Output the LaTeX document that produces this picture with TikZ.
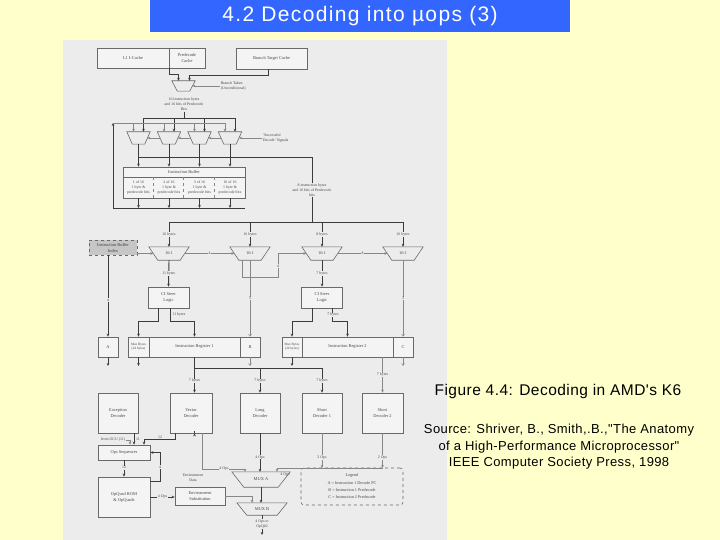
\documentclass[tikz,border=0pt]{standalone}
\usepackage{fontspec}
\setmainfont{Liberation Serif}
\newfontfamily\arialf{Liberation Sans}
\newfontfamily\arialt[LetterSpace=6.5]{Liberation Sans}
\newfontfamily\arials[LetterSpace=3]{Liberation Sans}
\usetikzlibrary{arrows.meta,calc}
\definecolor{ybg}{RGB}{255,255,204}
\definecolor{tbar}{RGB}{51,102,255}
\definecolor{figbg}{RGB}{236,236,236}
\definecolor{ln}{RGB}{60,60,60}
\definecolor{lnl}{RGB}{135,135,135}
\definecolor{tx}{RGB}{70,70,70}
\definecolor{bx}{RGB}{105,105,105}
\tikzset{
 ff/.style={font=\fontsize{4.4}{6}\selectfont, text=tx},
 bbox/.style={draw=bx, line width=0.6pt, ff, align=center, inner sep=0pt, fill=figbg!60!white},
 lbl/.style={font=\fontsize{3.9}{5}\selectfont, text=tx, align=center, inner sep=0.6pt, fill=figbg},
 lblnf/.style={font=\fontsize{3.9}{5}\selectfont, text=tx, align=center, inner sep=0.6pt},
 thk/.style={draw=ln, line width=0.9pt},
 thn/.style={draw=lnl, line width=0.45pt},
 arr/.style={-{Stealth[length=3pt,width=2.6pt]}},
 barb/.style={-{Straight Barb[length=2.2pt,width=3pt]}},
 muxn/.style={ff, inner sep=0pt},
 muxl/.style={draw=bx, line width=0.6pt},
}
\newcommand\muxshape[2]{\draw[muxl] (#1.north west) -- (#1.north east) -- ($(#1.south east)+(-#2,0)$) -- ($(#1.south west)+(#2,0)$) -- cycle;}
\begin{document}
\begin{tikzpicture}[x=1pt,y=-1pt]
\fill[ybg] (0,0) rectangle (720,540);
\useasboundingbox (0,0) rectangle (720,540);
\fill[tbar] (150,0) rectangle (570,32);
\node[font=\arialt\fontsize{21}{24}\selectfont, text=white] (title) at (360,16.5) {4.2 Decoding into µops (3)};
\fill[figbg] (63,40) rectangle (447,540);

% ---------- caches ----------
\node[bbox, minimum width=72, minimum height=20] (l1) at (133,58) {L1 I-Cache};
\node[bbox, minimum width=36, minimum height=20] (pre) at (187,58) {Predecode\\Cache};
\node[bbox, minimum width=71, minimum height=21] (btc) at (271.5,58.5) {Branch Target Cache};

\node[muxn, minimum width=23, minimum height=10] (mux0) at (183.5,86) {};
\muxshape{mux0}{5.5}
\node[lblnf, anchor=west, align=left] (brt) at (220,86) {Branch Taken\\(Unconditional)};
\draw[thn,arr] (brt.west) -- ($(mux0.east)+(-2.75,0)$);
\draw[thk,arr] (l1.south east) |- ($(mux0.north)+(-5,-6)$) -- ($(mux0.north)+(-5,0)$);
\draw[thk,arr] ($(btc.south)+(-3,0)$) |- ($(mux0.north)+(6,-5)$) -- ($(mux0.north)+(6,0)$);

\node[lblnf] (ib16) at (184,104.5) {16 instruction bytes\\and 16 bits of Predecode\\Bits};
\coordinate (b1L) at (143.5,118);
\coordinate (b1R) at (235,118);
\draw[thk] (ib16.south) -- (ib16.south |- b1L);
\draw[thk] (b1L) -- (b1R);

% ---------- first mux row ----------
\foreach \n/\x in {m1/138.5,m2/169,m3/199.5,m4/230}{
  \node[muxn, minimum width=23, minimum height=12] (\n) at (\x,138) {};
  \muxshape{\n}{5.5}
  \draw[thn,arr] ($(\n.north)+(-5,-9)$) -- ($(\n.north)+(-5,0)$);
  \draw[thk,arr] ($(\n.north)+(5,-14)$) -- ($(\n.north)+(5,0)$);
}
\node[lblnf, anchor=west, align=left] (sds) at (262,138) {`Successful\\Decode' Signals};
\draw[thn,arr] (sds.west) -- ($(m4.east)+(-2.75,0)$);
\draw[thn,arr] ($(m4.west)+(2.75,0)$) -- ($(m3.east)+(-2.75,0)$);
\draw[thn,arr] ($(m3.west)+(2.75,0)$) -- ($(m2.east)+(-2.75,0)$);
\draw[thn,arr] ($(m2.west)+(2.75,0)$) -- ($(m1.east)+(-2.75,0)$);

% ---------- instruction buffer ----------
\node[bbox, minimum width=122, minimum height=10] (ibh) at (184,172) {Instruction Buffer};
\node[bbox, minimum width=122, minimum height=21] (ibc) at (184,187.5) {};
\foreach \d in {30.5,61,91.5}{
  \draw[thn,dashed] ($(ibc.north west)+(\d,0)$) -- ($(ibc.south west)+(\d,0)$);
}
\node[lblnf] (c1) at (138.5,187.5) {1 of 16\\1 byte \&\\predecode bits};
\node[lblnf] (c2) at (169,187.5) {2 of 16\\1 byte \&\\predecode bits};
\node[lblnf] (c3) at (199.5,187.5) {3 of 16\\1 byte \&\\predecode bits};
\node[lblnf] (c4) at (230,187.5) {16 of 16\\1 byte \&\\predecode bits};

\coordinate (b2R) at (312,157);
\coordinate (lpB) at (113,208);
\coordinate (lpBR) at (245,208);
\coordinate (lpTop) at (113,123);
\coordinate (lpTR) at (225,123);
\draw[thk] (m1.south |- b2R) -- (b2R);
\foreach \n in {m1,m2,m3,m4}{
  \draw[thk,arr] (\n.south) -- (\n.south |- ibh.north);
  \draw[thk,arr] (ibc.south -| \n.south) -- (\n.south |- lpB);
}
\draw[thk,arr] (lpBR) -- (lpB) -- (lpTop);
\draw[thn] (lpTop) -- (lpTR);

\node[lblnf] (ib8) at (312,190) {8 instruction bytes\\and 16 bits of Predecode\\bits};
\draw[thk] (b2R) -- (ib8.north);
\coordinate (b3L) at (169,222);
\coordinate (b3R) at (403,222);
\draw[thk] (ib8.south) -- (ib8.south |- b3L);
\draw[thk] (b3L) -- (b3R);

% ---------- 16:1 muxes ----------
\foreach \n/\x/\t in {mA/169/16 bytes,mB/250/16 bytes,mC/322/8 bytes,mD/403/16 bytes}{
  \node[muxn, minimum width=40, minimum height=13] (\n) at (\x,253.5) {16:1};
  \muxshape{\n}{9}
  \draw[thk,arr] (\n.north |- b3L) -- (\n.north);
  \node[lbl] (l\n) at ($(\n.north)+(0,-12)$) {\t};
}
\node[bbox, dashed, fill=gray!45, minimum width=48, minimum height=15, text=black!75] (ibi) at (113,247.5) {Instruction Buffer\\Index};
\draw[thn,arr] (ibi.east |- mA.west) -- ($(mA.west)+(4.5,0)$);
\draw[thn,arr] ($(mA.east)+(-4.5,0)$) -- node[lbl] (n4a) {4} ($(mB.west)+(4.5,0)$);
\coordinate (jk1) at (242,277);
\coordinate (jk2) at (278,277);
\draw[thn,arr] ($(mB.south)+(-8,0)$) -- (jk1) -- (jk2) -- (jk2 |- mC.west) -- ($(mC.west)+(4.5,0)$);
\node[lbl] (n4b) at (278,266) {4};
\draw[thn,arr] ($(mC.east)+(-4.5,0)$) -- node[lbl] (n8) {8} ($(mD.west)+(4.5,0)$);

% ---------- CI steer ----------
\node[bbox, minimum width=41, minimum height=21] (ci1) at (168.5,297.5) {CI Steer\\Logic};
\node[bbox, minimum width=41, minimum height=21] (ci2) at (322,297.5) {CI Steer\\Logic};
\draw[thk,arr] (mA.south) -- node[lbl] (l11a) {11 bytes} (ci1.north);
\draw[thk,arr] (mC.south) -- node[lbl] (l7a) {7 bytes} (ci2.north);

% ---------- registers ----------
\node[bbox, minimum width=20, minimum height=20] (A) at (108,347) {A};
\node[bbox, minimum width=21, minimum height=20, font=\fontsize{3.4}{4}\selectfont] (ir1a) at (138.5,347) {Max Bytes\\(24 bytes)};
\node[bbox, minimum width=91, minimum height=20] (ir1) at (194.5,347) {Instruction Register 1};
\node[bbox, minimum width=20, minimum height=20] (Bx) at (250,347) {B};
\node[bbox, minimum width=20, minimum height=20, font=\fontsize{3.4}{4}\selectfont] (ir2a) at (292,347) {Max Bytes\\(24 bytes)};
\node[bbox, minimum width=91, minimum height=20] (ir2) at (347.5,347) {Instruction Register 2};
\node[bbox, minimum width=20, minimum height=20] (Cx) at (403,347) {C};

\draw[thn,barb] (mB.south) -- node[lbl,pos=0.5] (n5) {5} (Bx.north);
\draw[thn,barb] (mD.south) -- node[lbl,pos=0.5] (n3) {3} (Cx.north);
\draw[thk,arr] (ibi.south -| A.north) -- node[lbl,pos=0.55] (n4c) {4} (A.north);

\draw[thk,arr] ($(ci1.south)+(-10,0)$) |- ($(ir1a.north)+(0,-15)$) -- (ir1a.north);
\draw[thk,arr] ($(ci1.south)+(2,0)$) |- ($(ir1.north)+(0,-15)$) -- (ir1.north);
\node[lbl] (l11b) at (179,315) {11 bytes};
\draw[thk,arr] ($(ci2.south)+(-10,0)$) |- ($(ir2a.north)+(0,-15)$) -- (ir2a.north);
\draw[thk,arr] ($(ci2.south)+(10,0)$) |- ($(ir2.north)+(0,-15)$) -- (ir2.north);
\node[lbl] (l7b) at (333,315) {7 bytes};

\coordinate (oy) at (0,366);
\draw[thk,arr] (A.south) -- (A.south |- oy);
\draw[thk,arr] (ir1a.south) -- (ir1a.south |- oy);
\draw[thn,barb] (Bx.south) -- (Bx.south |- oy);
\draw[thk,arr] (ir2a.south) -- (ir2a.south |- oy);
\draw[thn,barb] (Cx.south) -- (Cx.south |- oy);

% ---------- decoders ----------
\node[bbox, minimum width=40, minimum height=40] (exc) at (118,413) {Exception\\Decoder};
\node[bbox, minimum width=42, minimum height=40] (vec) at (191,413) {Vector\\Decoder};
\node[bbox, minimum width=40, minimum height=40] (lng) at (260,413) {Long\\Decoder};
\node[bbox, minimum width=40, minimum height=40] (sd1) at (322,413) {Short\\Decoder 1};
\node[bbox, minimum width=41, minimum height=40] (sd2) at (382.5,413) {Short\\Decoder 2};

\coordinate (j1) at (194.5,368);
\coordinate (j3) at (322,368);
\draw[thk] (ir1.south) -- (j1) -- (j3);
\draw[thk,arr] (j1) -- (j1 |- vec.north);
\draw[thk,arr] (j1 -| lng.north) -- (lng.north);
\draw[thk,arr] (j3) -- (sd1.north);
\node[lbl] (l7c) at (194.5,381) {7 bytes};
\node[lbl] (l7d) at (260,381) {7 bytes};
\node[lbl] (l7e) at (322,381) {7 bytes};
\draw[thn,arr] (ir2.south -| sd2.north) -- node[lbl,pos=0.5] (l7f) {7 bytes} (sd2.north);

% ---------- lower section ----------
\node[bbox, minimum width=52, minimum height=15] (ops) at (124,452.5) {Ops Sequencer};
\node[bbox, minimum width=52, minimum height=40] (opq) at (124,497) {OpQuad ROM\\\& OpQuads};
\node[bbox, minimum width=50, minimum height=18] (env) at (200,496) {Environment\\Substitution};
\node[muxn, minimum width=58, minimum height=15] (muxa) at (261,479.5) {MUX A};
\muxshape{muxa}{12}
\node[muxn, minimum width=50, minimum height=12] (muxb) at (262,509) {MUX B};
\muxshape{muxb}{10}
\node[draw=bx, line width=0.6pt, dashed, rounded corners=3pt, minimum width=102, minimum height=37, font=\fontsize{4.2}{7.3}\selectfont, text=tx, align=center] (leg) at (352,486.5) {Legend\\A = Instruction 1 Decode PC\\B = Instruction 1 Predecode\\C = Instruction 2 Predecode};

\node[lblnf, anchor=east] (ocu) at (126,440) {from OCU (11)};
\draw[thn,arr] (ocu.east) -| ($(ops.north)+(6,0)$);
\draw[thk,arr] ($(exc.south)+(16,0)$) -- ($(ops.north)+(10,0)$);
\node[lblnf] (n11) at (138,439) {11};
\draw[thk,arr] ($(vec.south)+(-16,0)$) |- ($(ops.north)+(20,-5)$) -- ($(ops.north)+(20,0)$);
\node[lblnf] (n12) at (160,437.5) {12};

\draw[thk,arr] (ops.south) -- node[lbl,pos=0.45] (n12b) {12} (opq.north);
\draw[thk,arr] ($(opq.north east)+(0,5)$) -- ++(10,0) |- (ops.east);
\node[lbl] (n4d) at (160,467) {4};
\draw[thk,arr] (opq.east) -- node[lbl] (l4o) {4 Ops} (opq.east -| env.west);

\draw[thk,arr] ($(vec.south)+(3.5,0)$) -- ($(vec.south)+(3.5,0)$ |- env.north);
\node[lbl] (envd) at (193,478) {Environment\\Data};

\coordinate (va) at (202,469);
\draw[thn,arr] ($(vec.south)+(11,0)$) -- (va) -| ($(muxa.north)+(-16,0)$);
\node[lbl] (l4v) at (224,469) {4 Ops};
\draw[thk,arr] (lng.south) -- node[lbl,pos=0.62] (l4l) {4 Ops} (lng.south |- muxa.north);

\coordinate (busA) at (277,468);
\coordinate (busB) at (382.5,468);
\draw[thn] (busB) -- (busA);
\draw[thn,arr] (busA) -- (busA |- muxa.north);
\node[lblnf] (l4s) at (285,474.5) {4 Ops};
\draw[thn,arr] (sd1.south) -- node[lbl,pos=0.7] (l2a) {2 Ops} (sd1.south |- busA);
\draw[thn,arr] (sd2.south) -- node[lbl,pos=0.7] (l2b) {2 Ops} (sd2.south |- busA);

\draw[thk,arr] (muxa.south) -- (muxa.south |- muxb.north);
\draw[thn,arr] (env.east) -| ($(muxb.north)+(-10,0)$);
\coordinate (outq) at (262,535);
\draw[thk,arr] (muxb.south) -- (outq);
\node[lbl] (l4q) at (262,524) {4 Ops to\\OpQ\#2};

% ---------- right-hand text ----------
\node[font=\arials\fontsize{15.5}{18}\selectfont] (figcap) at (558,391) {Figure 4.4: Decoding in AMD's K6};
\node[font=\arials\fontsize{13}{16.5}\selectfont, align=center] (src) at (559,447) {Source: Shriver, B., Smith,.B.,"The Anatomy\\of a High-Performance Microprocessor"\\IEEE Computer Society Press, 1998};
\end{tikzpicture}
\end{document}
